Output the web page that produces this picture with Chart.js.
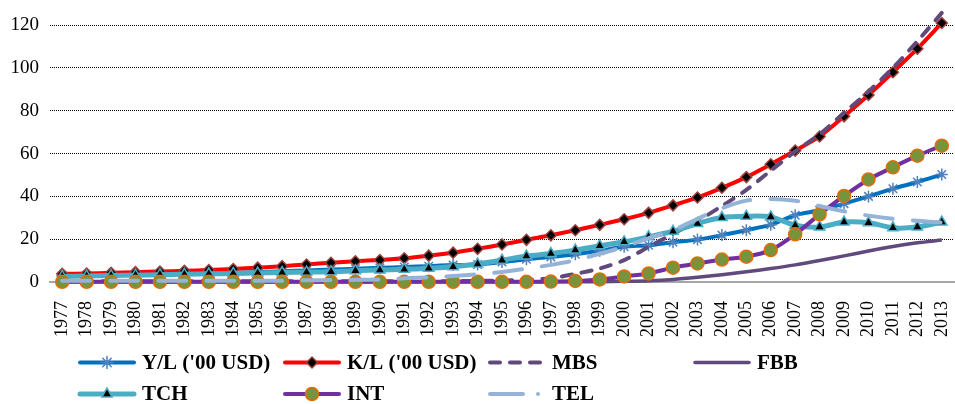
<!DOCTYPE html>
<html>
<head>
<meta charset="utf-8">
<script src="https://cdn.jsdelivr.net/npm/chart.js@4.4.1/dist/chart.umd.min.js"></script>
<style>
  html, body { margin: 0; padding: 0; background: #fff; overflow: hidden; }
  #wrap { width: 962px; height: 404px; }
</style>
</head>
<body>
<div id="wrap"><canvas id="chart" width="962" height="404"></canvas></div>
<script>
const years = ['1977', '1978', '1979', '1980', '1981', '1982', '1983', '1984', '1985', '1986',
    '1987', '1988', '1989', '1990', '1991', '1992', '1993', '1994', '1995', '1996',
    '1997', '1998', '1999', '2000', '2001', '2002', '2003', '2004', '2005', '2006',
    '2007', '2008', '2009', '2010', '2011', '2012', '2013'];

const yTicks = [0, 20, 40, 60, 80, 100, 120];

const ylValues = [2.8, 3.0, 3.2, 3.4, 3.6, 3.8, 4.0, 4.3, 4.6, 5.0, 5.4, 5.8,
    6.2, 6.6, 7.0, 7.4, 7.9, 8.2, 9.3, 10.6, 11.7, 13.0, 14.6, 16.5,
    17.2, 18.6, 19.8, 21.9, 24.2, 26.8, 31.2, 33.5, 36.6, 40.0, 43.6, 46.7, 50.2];
const klValues = [3.8, 4.0, 4.3, 4.6, 4.9, 5.2, 5.6, 6.1, 6.7, 7.4, 8.2, 9.0,
    9.7, 10.3, 11.1, 12.3, 13.7, 15.5, 17.5, 19.7, 21.8, 24.2, 26.7, 29.3,
    32.3, 35.8, 39.5, 44.0, 49.0, 55.0, 61.4, 68.0, 77.4, 87.4, 98.0, 109.0, 121.0];
const mbsValues = [0.3, 0.3, 0.3, 0.3, 0.3, 0.3, 0.3, 0.3, 0.3, 0.3, 0.3, 0.3,
    0.3, 0.3, 0.3, 0.3, 0.4, 0.5, 0.7, 1.0, 1.8, 3.8, 6.3, 10.2,
    16.4, 22.5, 28.5, 35.5, 43.0, 52.0, 61.0, 69.0, 79.0, 89.0, 100.0, 112.5, 125.7];
const fbbValues = [0.1, 0.1, 0.1, 0.1, 0.1, 0.1, 0.1, 0.1, 0.1, 0.1, 0.1, 0.1,
    0.1, 0.1, 0.1, 0.1, 0.1, 0.1, 0.1, 0.1, 0.1, 0.1, 0.1, 0.3,
    0.6, 1.2, 2.2, 3.4, 4.8, 6.3, 8.0, 10.0, 12.2, 14.5, 16.6, 18.3, 19.6];
const tchValues = [2.6, 2.8, 3.0, 3.2, 3.4, 3.6, 3.8, 4.0, 4.2, 4.4, 4.6, 4.8,
    5.3, 5.6, 5.9, 6.4, 7.1, 8.4, 10.2, 12.1, 13.3, 14.9, 16.9, 18.8,
    21.1, 23.7, 27.3, 30.1, 30.7, 30.4, 26.5, 25.7, 28.0, 27.7, 25.3, 25.7, 28.0];
const intValues = [0.1, 0.1, 0.1, 0.1, 0.1, 0.1, 0.1, 0.1, 0.1, 0.1, 0.1, 0.1,
    0.1, 0.1, 0.1, 0.1, 0.1, 0.1, 0.1, 0.1, 0.2, 0.5, 1.2, 2.6,
    4.0, 6.7, 8.7, 10.5, 11.8, 14.9, 22.3, 31.6, 40.2, 47.9, 53.6, 59.0, 63.7];
const telValues = [0.6, 0.6, 0.6, 0.6, 0.6, 0.6, 0.6, 0.6, 0.6, 0.6, 0.8, 0.9,
    1.0, 1.2, 1.7, 2.2, 2.8, 3.6, 4.7, 6.2, 8.0, 10.2, 13.2, 16.5,
    20.5, 24.2, 29.5, 34.5, 38.0, 38.8, 38.0, 35.5, 33.0, 31.0, 29.5, 28.6, 27.8];

const serif = '"Liberation Serif", "Times New Roman", serif';

// legend is laid out on a fixed grid below the axis, like the original
const legendCols = [78, 283, 488, 693];
const legendRows = [362.5, 394];

const gridLegend = {
    id: 'gridLegend',
    afterDraw(chart) {
        const ctx = chart.ctx;
        chart.data.datasets.forEach((ds, i) => {
            const x = legendCols[i % 4];
            const y = legendRows[Math.floor(i / 4)];
            ctx.save();
            ctx.beginPath();
            ctx.lineCap = 'round';
            ctx.setLineDash(ds.legendDash || ds.borderDash || []);
            ctx.lineWidth = ds.borderWidth;
            ctx.strokeStyle = ds.borderColor;
            ctx.moveTo(x + 2, y);
            ctx.lineTo(x + 56, y);
            ctx.stroke();
            ctx.setLineDash([]);
            if (ds.pointRadius > 0) {
                ctx.fillStyle = ds.pointBackgroundColor;
                ctx.strokeStyle = ds.pointBorderColor;
                ctx.lineWidth = ds.pointBorderWidth;
                Chart.helpers.drawPoint(ctx, {
                    pointStyle: ds.pointStyle,
                    rotation: 0,
                    radius: ds.pointRadius,
                    borderWidth: ds.pointBorderWidth
                }, x + 29, y);
            }
            ctx.fillStyle = '#000';
            ctx.font = 'bold 21px ' + serif;
            ctx.textBaseline = 'middle';
            ctx.textAlign = 'left';
            ctx.fillText(ds.label, x + 64, y + 1);
            ctx.restore();
        });
    }
};

const datasets = [
    {
        label: "Y/L ('00 USD)",
        data: ylValues,
        borderColor: '#0070C0',
        borderWidth: 4,
        pointStyle: 'star',
        pointRadius: 6,
        pointBackgroundColor: '#4F81BD',
        pointBorderColor: '#4F81BD',
        pointBorderWidth: 1.5
    },
    {
        label: "K/L ('00 USD)",
        data: klValues,
        borderColor: '#FF0000',
        borderWidth: 4,
        pointStyle: 'rectRot',
        pointRadius: 5.5,
        pointBackgroundColor: '#000000',
        pointBorderColor: '#A0403C',
        pointBorderWidth: 1.5
    },
    {
        label: 'MBS',
        data: mbsValues,
        borderColor: '#604A7B',
        borderWidth: 4,
        borderDash: [10, 10],
        borderCapStyle: 'round',
        pointRadius: 0
    },
    {
        label: 'FBB',
        data: fbbValues,
        borderColor: '#604A7B',
        borderWidth: 3.5,
        pointRadius: 0
    },
    {
        label: 'TCH',
        data: tchValues,
        borderColor: '#4BACC6',
        borderWidth: 5,
        pointStyle: 'triangle',
        pointRadius: 6,
        pointBackgroundColor: '#000000',
        pointBorderColor: '#4BACC6',
        pointBorderWidth: 1.5
    },
    {
        label: 'INT',
        data: intValues,
        borderColor: '#7030A0',
        borderWidth: 4,
        pointStyle: 'circle',
        pointRadius: 6.5,
        pointBackgroundColor: '#77933C',
        pointBorderColor: '#E46C0A',
        pointBorderWidth: 1.5
    },
    {
        label: 'TEL',
        data: telValues,
        borderColor: '#95B3D7',
        borderWidth: 4,
        borderDash: [28, 20],
        borderCapStyle: 'round',
        legendDash: [33, 15, 0, 15],
        pointRadius: 0
    }
];

// later series sit on top, as in the source chart
datasets.forEach((ds, i) => {
    ds.order = datasets.length - i;
    ds.fill = false;
    ds.tension = 0.3;
    ds.clip = false;
});

new Chart(document.getElementById('chart'), {
    type: 'line',
    data: { labels: years, datasets: datasets },
    plugins: [gridLegend],
    options: {
        responsive: false,
        animation: false,
        devicePixelRatio: 1,
        layout: { padding: { top: 7, right: 0, bottom: 64, left: 0 } },
        plugins: {
            legend: { display: false },
            tooltip: { enabled: false }
        },
        scales: {
            x: {
                offset: true,
                grid: { display: false, drawTicks: false },
                border: { display: true, color: '#A6A6A6', width: 2 },
                ticks: {
                    autoSkip: false,
                    minRotation: 90,
                    maxRotation: 90,
                    padding: 19,
                    color: '#000',
                    font: { family: serif, size: 18 }
                },
                afterFit(scale) {
                    scale.height = 58;
                    scale.paddingLeft = 0;
                    scale.paddingRight = 0;
                }
            },
            y: {
                min: 0,
                max: 128,
                grid: {
                    drawTicks: false,
                    color: (c) => (c.tick && c.tick.value === 0) ? 'rgba(0,0,0,0)' : '#000',
                    lineWidth: 1
                },
                border: { display: false, dash: [1, 1] },
                afterBuildTicks(scale) {
                    scale.ticks = yTicks.map(v => ({ value: v }));
                },
                ticks: {
                    padding: 11,
                    color: '#000',
                    font: { family: serif, size: 19 }
                },
                afterFit(scale) {
                    scale.width = 50;
                    scale.paddingTop = 0;
                    scale.paddingBottom = 0;
                }
            }
        }
    }
});
</script>
</body>
</html>
